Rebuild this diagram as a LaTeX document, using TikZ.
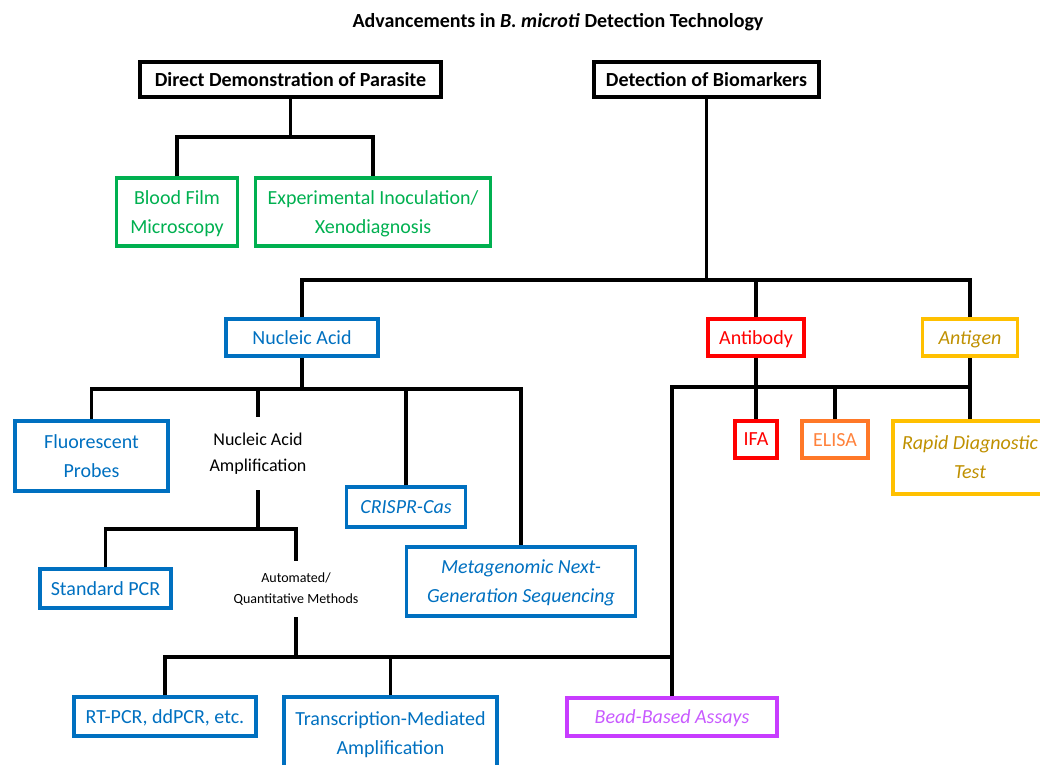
\documentclass[tikz,border=0pt]{standalone}
\usepackage{fontspec}
\setmainfont{Carlito}
\definecolor{cgreen}{RGB}{0,176,80}
\definecolor{cblue}{RGB}{0,112,192}
\definecolor{cred}{RGB}{255,0,0}
\definecolor{corange}{RGB}{255,120,40}
\definecolor{corangetxt}{RGB}{255,130,60}
\definecolor{cgold}{RGB}{255,192,0}
\definecolor{cgoldtxt}{RGB}{191,144,0}
\definecolor{cpurple}{RGB}{200,60,255}
\definecolor{cpurpletxt}{RGB}{200,90,255}
\tikzset{
  nbox/.style={draw=#1, text=#1, line width=3.5pt, inner sep=0pt, align=center,
    text depth=0pt, font=\fontsize{20}{29}\selectfont},
  topbox/.style={draw=black, line width=3.5pt, inner sep=0pt, align=center,
    text depth=0pt, font=\fontsize{20}{24}\selectfont\bfseries},
  plain/.style={inner sep=0pt, align=center},
  conn/.style={line width=3.5pt, black},
}
\begin{document}
\begin{tikzpicture}[x=1pt,y=-1pt]
\useasboundingbox (0,0) rectangle (1040,764);
% title
\node[plain, font=\fontsize{20}{24}\selectfont\bfseries] (title) at (558,22) {Advancements in \textit{B. microti} Detection Technology};
% top level
\node[topbox, minimum width=301, minimum height=35] (direct) at (290.5,79.5) {Direct Demonstration of Parasite};
\node[topbox, minimum width=225, minimum height=35] (biomark) at (706.5,79.5) {Detection of Biomarkers};
% direct children
\node[nbox=cgreen, minimum width=121, minimum height=68] (blood) at (177,212) {Blood Film\\Microscopy};
\node[nbox=cgreen, minimum width=235, minimum height=68] (exper) at (373,212) {Experimental Inoculation/\\Xenodiagnosis};
% biomarker children
\node[nbox=cblue, minimum width=152, minimum height=37] (nucleic) at (302,337.5) {Nucleic Acid};
\node[nbox=cred, minimum width=96, minimum height=37] (antibody) at (756,337.5) {Antibody};
\node[nbox=cgold, text=cgoldtxt, minimum width=95, minimum height=37, font=\fontsize{20}{29}\selectfont\itshape] (antigen) at (970,337.5) {Antigen};
% antibody / antigen children
\node[nbox=cred, minimum width=42, minimum height=37] (ifa) at (756,439.5) {IFA};
\node[nbox=corange, text=corangetxt, minimum width=66, minimum height=37] (elisa) at (835,439.5) {ELISA};
\node[nbox=cgold, text=cgoldtxt, minimum width=154, minimum height=73, font=\fontsize{20}{29}\selectfont\itshape] (rdt) at (970,457.5) {Rapid Diagnostic\\Test};
% nucleic children
\node[nbox=cblue, minimum width=153, minimum height=70] (fluor) at (91.5,456) {Fluorescent\\Probes};
\node[plain, minimum height=73, font=\fontsize{18}{26}\selectfont] (naa) at (258,453.5) {Nucleic Acid\\Amplification};
\node[nbox=cblue, minimum width=119, minimum height=40, font=\fontsize{20}{29}\selectfont\itshape] (crispr) at (406,507) {CRISPR-Cas};
\node[nbox=cblue, minimum width=229, minimum height=69, font=\fontsize{20}{29}\selectfont\itshape] (meta) at (521,581.5) {Metagenomic Next-\\Generation Sequencing};
% amplification children
\node[nbox=cblue, minimum width=131, minimum height=39] (std) at (105.5,588.5) {Standard PCR};
\node[plain, minimum height=56, font=\fontsize{14}{21}\selectfont] (auto) at (296,589) {Automated/\\Quantitative Methods};
% automated children
\node[nbox=cblue, minimum width=182, minimum height=39] (rtpcr) at (165,716.5) {RT-PCR, ddPCR, etc.};
\node[nbox=cblue, minimum width=213, minimum height=73] (tma) at (390.5,733.5) {Transcription-Mediated\\Amplification};
\node[nbox=cpurple, text=cpurpletxt, minimum width=210, minimum height=38, font=\fontsize{20}{29}\selectfont\itshape] (bead) at (672,717) {Bead-Based Assays};
% bus coordinates
\coordinate (d1) at (290.5,137);
\coordinate (b1) at (706.5,280);
\coordinate (b2) at (756,387);
\coordinate (n1) at (302,389);
\coordinate (a1) at (258,529);
\coordinate (q1) at (296,657);
% connectors
\draw[conn] (direct.south) -- (d1);
\draw[conn] (blood.north) |- (d1) -| (exper.north);
\draw[conn] (biomark.south) -- (b1);
\draw[conn] (nucleic.north) |- (b1) -| (antigen.north);
\draw[conn] (antibody.north) -- (antibody.north |- b1);
\draw[conn] (antibody.south) -- (ifa.north);
\draw[conn] (antigen.south) -- (rdt.north);
\draw[conn] (bead.north) |- (b2) -| (antigen.south);
\draw[conn] (elisa.north) -- (elisa.north |- b2);
\draw[conn] (nucleic.south) -- (n1);
\draw[conn] (fluor.north) |- (n1) -| (meta.north);
\draw[conn] (naa.north) -- (naa.north |- n1);
\draw[conn] (crispr.north) -- (crispr.north |- n1);
\draw[conn] (naa.south) -- (a1);
\draw[conn] (std.north) |- (a1) -| (auto.north);
\draw[conn] (auto.south) -- (q1);
\draw[conn] (rtpcr.north) |- (q1) -- (bead.north |- q1);
\draw[conn] (tma.north) -- (tma.north |- q1);
\end{tikzpicture}
\end{document}
